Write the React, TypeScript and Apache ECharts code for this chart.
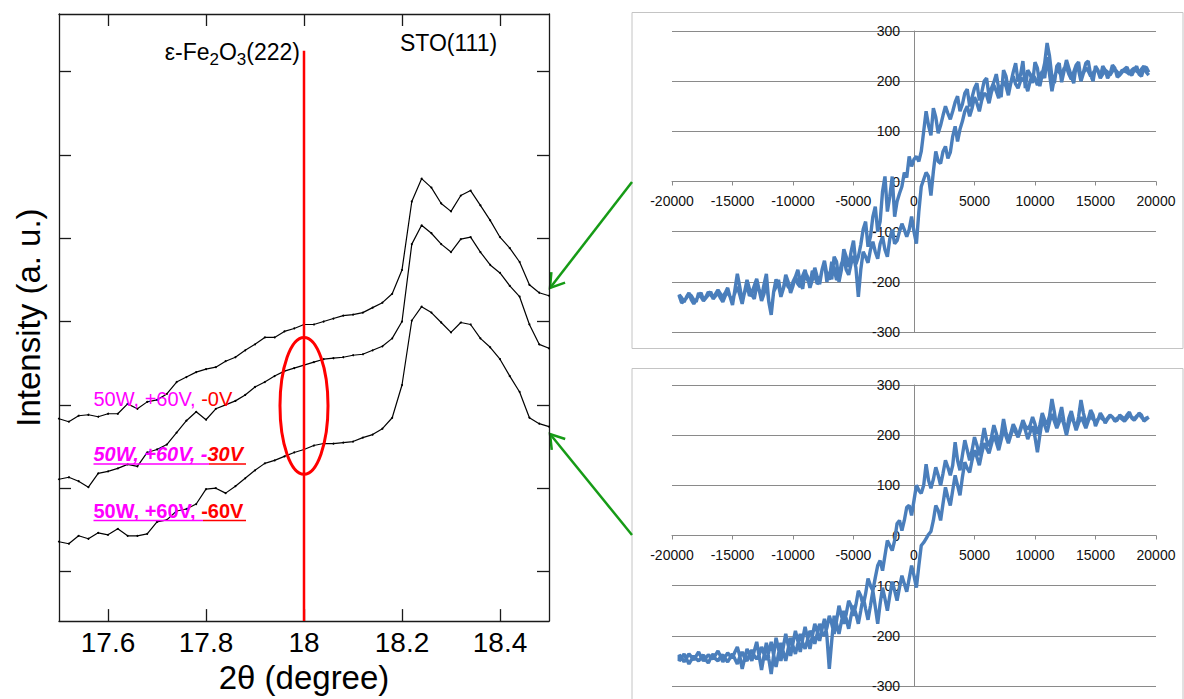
import React, { useEffect, useRef } from "react";
import * as echarts from "echarts";

// ---------- XRD data (2θ scan, arbitrary intensity units) ----------
const twoTheta = [
  17.5, 17.52, 17.54, 17.56, 17.58, 17.6, 17.62, 17.64, 17.66, 17.68,
  17.7, 17.72, 17.74, 17.76, 17.78, 17.8, 17.82, 17.84, 17.86, 17.88,
  17.9, 17.92, 17.94, 17.96, 17.98, 18.0, 18.02, 18.04, 18.06, 18.08,
  18.1, 18.12, 18.14, 18.16, 18.18, 18.2, 18.22, 18.24, 18.26, 18.28,
  18.3, 18.32, 18.34, 18.36, 18.38, 18.4, 18.42, 18.44, 18.46, 18.48, 18.5,
];
const xrd0V = [
  204, 201, 207, 208, 206, 209, 209, 219, 214, 221,
  223, 229, 241, 246, 251, 254, 256, 262, 266, 273,
  279, 286, 286, 292, 295, 299, 299, 302, 305, 308,
  309, 311, 316, 321, 330, 354, 423, 446, 437, 421,
  413, 429, 434, 419, 404, 387, 376, 362, 339, 331, 328,
];
const xrd30V = [
  143, 145, 141, 135, 149, 151, 154, 158, 156, 170,
  173, 178, 190, 202, 211, 203, 214, 218, 222, 228,
  236, 241, 247, 252, 255, 258, 261, 264, 265, 266,
  268, 269, 273, 277, 285, 302, 380, 399, 391, 380,
  372, 385, 387, 372, 359, 351, 338, 327, 299, 279, 275,
];
const xrd60V = [
  80, 78, 86, 83, 89, 87, 93, 86, 86, 88,
  100, 102, 111, 113, 118, 133, 134, 129, 136, 144,
  152, 159, 162, 166, 170, 173, 177, 179, 179, 180,
  181, 185, 188, 194, 205, 238, 303, 317, 311, 301,
  291, 301, 299, 285, 276, 264, 247, 231, 205, 199, 196,
];
const xrdXTicks = [17.6, 17.8, 18, 18.2, 18.4];
const xrdYTicks = [50, 134, 218, 302, 386, 470, 554];
const peakMarker = [[18, 0], [18, 575]];
const ellipseCenter = [18, 217];
const ellipseRadius = [0.049, 69];

// ---------- M-H loops (field in Oe, moment in emu/cc) ----------
const fieldDown = [
  19400, 19000, 18600, 18200, 17800, 17400, 17000, 16600, 16200, 15800,
  15400, 15000, 14600, 14200, 13800, 13400, 13000, 12600, 12200, 11800,
  11400, 11000, 10600, 10200, 9800, 9400, 9000, 8600, 8200, 7800,
  7400, 7000, 6600, 6200, 5800, 5400, 5000, 4600, 4200, 3800,
  3400, 3000, 2600, 2200, 1800, 1400, 1000, 600, 200, -200,
  -600, -1000, -1400, -1800, -2200, -2600, -3000, -3400, -3800, -4200,
  -4600, -5000, -5400, -5800, -6200, -6600, -7000, -7400, -7800, -8200,
  -8600, -9000, -9400, -9800, -10200, -10600, -11000, -11400, -11800, -12200,
  -12600, -13000, -13400, -13800, -14200, -14600, -15000, -15400, -15800, -16200,
  -16600, -17000, -17400, -17800, -18200, -18600, -19000, -19400,
];
const fieldDownMid = [
  19200, 18800, 18400, 18000, 17600, 17200, 16800, 16400, 16000, 15600,
  15200, 14800, 14400, 14000, 13600, 13200, 12800, 12400, 12000, 11600,
  11200, 10800, 10400, 10000, 9600, 9200, 8800, 8400, 8000, 7600,
  7200, 6800, 6400, 6000, 5600, 5200, 4800, 4400, 4000, 3600,
  3200, 2800, 2400, 2000, 1600, 1200, 800, 400, 0, -400,
  -800, -1200, -1600, -2000, -2400, -2800, -3200, -3600, -4000, -4400,
  -4800, -5200, -5600, -6000, -6400, -6800, -7200, -7600, -8000, -8400,
  -8800, -9200, -9600, -10000, -10400, -10800, -11200, -11600, -12000, -12400,
  -12800, -13200, -13600, -14000, -14400, -14800, -15200, -15600, -16000, -16400,
  -16800, -17200, -17600, -18000, -18400, -18800, -19200,
];
const fieldUp = fieldDown.slice().reverse();
const fieldUpMid = fieldDownMid.slice().reverse();

const mh1Down = [
  218, 226, 214, 222, 216, 224, 212, 226, 214, 222,
  208, 230, 212, 236, 204, 232, 210, 242, 198, 230,
  208, 276, 214, 226, 196, 222, 240, 200, 218, 182,
  222, 186, 198, 170, 200, 162, 186, 150, 176, 140,
  158, 124, 150, 112, 128, 92, 140, 60, 50, 30,
  8, -10, -40, 10, -60, -20, -100, -70, -130, -95,
  -150, -118, -170, -135, -200, -150, -180, -160, -205, -172,
  -212, -180, -200, -190, -222, -186, -230, -195, -262, -200,
  -238, -208, -226, -196, -244, -210, -236, -220, -240, -222,
  -234, -226, -238, -222, -236, -224, -238, -228,
];
const mh1DownMid = [
  228, 210, 230, 212, 228, 218, 208, 232, 206, 230,
  222, 200, 240, 218, 238, 196, 226, 220, 236, 196,
  250, 236, 190, 238, 214, 186, 212, 236, 196, 210,
  168, 214, 186, 206, 178, 196, 168, 184, 154, 170,
  140, 136, 132, 96, 146, 112, 100, 40, 44, 50,
  18, -24, -70, -30, 10, -80, -50, -110, -80, -126,
  -165, -140, -150, -176, -160, -195, -200, -176, -190, -196,
  -190, -214, -176, -208, -200, -214, -206, -220, -240, -224,
  -216, -234, -214, -220, -226, -222, -230, -228, -232, -228,
  -220, -232, -230, -240, -228, -232, -242,
];
const mh1Up = [
  -226, -240, -222, -244, -228, -236, -220, -232, -216, -230,
  -212, -246, -184, -238, -206, -222, -194, -230, -184, -266,
  -210, -224, -198, -214, -190, -210, -176, -206, -188, -200,
  -158, -196, -174, -190, -152, -186, -148, -230, -140, -162,
  -120, -154, -110, -150, -96, -118, -84, -110, -70, -124,
  -10, 18, -28, 60, 36, 70, 58, 110, 104, 140,
  130, 168, 140, 176, 156, 192, 166, 200, 172, 210,
  186, 206, 180, 214, 192, 220, 248, 180, 224, 210,
  228, 204, 232, 200, 226, 210, 224, 206, 222, 212,
  224, 214, 220, 214, 226, 216, 230, 212,
];
const mh1UpMid = [
  -232, -230, -236, -236, -222, -230, -226, -224, -224, -222,
  -230, -216, -210, -222, -228, -208, -216, -206, -240, -220,
  -196, -214, -210, -200, -204, -188, -196, -178, -204, -176,
  -186, -160, -196, -164, -176, -164, -172, -176, -150, -136,
  -140, -124, -136, -114, -124, -100, -96, -96, -100, -60,
  4, 10, 20, 40, 60, 46, 90, 80, 120, 150,
  146, 156, 162, 172, 178, 180, 188, 190, 196, 194,
  200, 196, 200, 206, 210, 206, 214, 206, 218, 226,
  214, 218, 222, 216, 220, 216, 220, 214, 218, 220,
  218, 222, 218, 222, 220, 224, 218,
];

const mh2Down = [
  236, 228, 244, 230, 246, 232, 240, 228, 238, 224,
  244, 218, 250, 226, 270, 212, 248, 206, 256, 214,
  272, 222, 244, 202, 236, 212, 230, 196, 222, 190,
  232, 184, 220, 178, 214, 160, 196, 150, 190, 130,
  186, 120, 150, 100, 136, 94, 142, 84, 100, 40,
  56, 10, 24, -30, -10, -70, -60, -110, -86, -140,
  -110, -160, -130, -176, -140, -196, -160, -200, -176, -216,
  -190, -226, -196, -236, -204, -250, -214, -262, -212, -248,
  -222, -246, -228, -250, -232, -256, -236, -252, -238, -250,
  -236, -254, -238, -250, -240, -256, -236, -250,
];
const mh2DownMid = [
  232, 240, 236, 234, 240, 236, 230, 236, 232, 236,
  230, 240, 232, 244, 236, 228, 234, 226, 236, 246,
  238, 230, 220, 222, 220, 218, 214, 212, 204, 206,
  200, 204, 196, 190, 186, 180, 170, 170, 160, 150,
  140, 136, 124, 120, 112, 110, 100, 90, 70, 60,
  30, 30, -10, -20, -40, -50, -84, -100, -116, -120,
  -138, -140, -156, -160, -170, -176, -184, -192, -196, -200,
  -208, -214, -216, -220, -226, -232, -236, -238, -232, -236,
  -238, -240, -238, -244, -242, -246, -244, -246, -242, -246,
  -244, -248, -244, -246, -248, -246, -244,
];
const mh2Up = [
  -238, -252, -236, -248, -232, -250, -238, -246, -230, -252,
  -234, -244, -222, -266, -226, -250, -212, -268, -214, -276,
  -204, -250, -196, -240, -190, -232, -182, -226, -176, -210,
  -166, -266, -160, -196, -150, -186, -140, -176, -122, -168,
  -110, -176, -104, -150, -92, -130, -80, -112, -60, -104,
  -20, -6, 8, 60, 30, 96, 60, 120, 80, 146,
  126, 170, 140, 184, 164, 200, 170, 210, 184, 214,
  196, 226, 192, 218, 166, 230, 206, 242, 214, 236,
  200, 240, 210, 236, 214, 238, 226, 236, 228, 240,
  230, 236, 228, 240, 232, 242, 230, 236,
];
const mh2UpMid = [
  -244, -244, -242, -240, -242, -244, -242, -238, -240, -242,
  -240, -232, -240, -246, -236, -230, -240, -240, -246, -238,
  -226, -222, -218, -214, -210, -206, -204, -200, -192, -186,
  -200, -210, -176, -172, -166, -160, -156, -150, -146, -140,
  -142, -136, -126, -120, -110, -104, -96, -86, -80, -60,
  -14, 2, 30, 50, 64, 76, 90, 100, 116, 134,
  150, 156, 164, 174, 182, 186, 190, 198, 200, 206,
  210, 210, 206, 196, 200, 220, 226, 228, 226, 220,
  222, 226, 224, 226, 228, 232, 232, 232, 234, 236,
  234, 232, 234, 236, 238, 236, 234,
];

const FONT = "'Liberation Sans', Arial, Helvetica, sans-serif";
const FRAME = "#1a1a1a";
const XLGRAY = "#8a8a8a";
const BLUE = "#4a7ebb";
const GREEN = "#169b16";
const MAGENTA = "#ff00ff";
const RED = "#ff0000";

function branch(field: number[], main: number[], fieldMid: number[], mid: number[]) {
  const out: number[][] = [];
  field.forEach((h, i) => {
    out.push([h, main[i]]);
    if (i < fieldMid.length) out.push([fieldMid[i], mid[i]]);
  });
  return out;
}

function loop(down: number[], downMid: number[], up: number[], upMid: number[]) {
  return [
    ...branch(fieldDown, down, fieldDownMid, downMid),
    ...branch(fieldUp, up, fieldUpMid, upMid),
  ];
}

function arrow(x1: number, y1: number, x2: number, y2: number) {
  const dx = x2 - x1;
  const dy = y2 - y1;
  const len = Math.hypot(dx, dy);
  const ux = dx / len;
  const uy = dy / len;
  const hl = 16;
  const a = Math.PI / 5.5;
  const c = Math.cos(a);
  const s = Math.sin(a);
  const w1 = [x2 - hl * (ux * c - uy * s), y2 - hl * (ux * s + uy * c)];
  const w2 = [x2 - hl * (ux * c + uy * s), y2 - hl * (-ux * s + uy * c)];
  return [
    { type: "line", shape: { x1, y1, x2, y2 }, style: { stroke: GREEN, lineWidth: 2.5 } },
    {
      type: "polyline",
      shape: { points: [w1, [x2, y2], w2] },
      style: { stroke: GREEN, lineWidth: 2.5, fill: null },
    },
  ];
}

function xrdAxisLine() {
  return { onZero: false, lineStyle: { color: FRAME, width: 1.3 } };
}

function mhXAxis(gridIndex: number) {
  return {
    type: "value",
    gridIndex,
    min: -20000,
    max: 20000,
    interval: 5000,
    offset: -150.5,
    axisLine: { onZero: false, lineStyle: { color: XLGRAY, width: 1 } },
    axisTick: { show: true, length: 4, lineStyle: { color: XLGRAY } },
    axisLabel: {
      fontSize: 14,
      color: "#111",
      margin: 12,
      fontFamily: FONT,
      hideOverlap: false,
      formatter: (v: number) => String(v),
    },
    splitLine: { show: false },
  };
}

function mhYAxis(gridIndex: number) {
  return {
    type: "value",
    gridIndex,
    min: -300,
    max: 300,
    interval: 100,
    offset: -242,
    axisLine: { onZero: false, lineStyle: { color: XLGRAY, width: 1 } },
    axisTick: { show: true, length: 4, lineStyle: { color: XLGRAY } },
    axisLabel: { fontSize: 14, color: "#111", margin: 14, fontFamily: FONT, formatter: (v: number) => String(v) },
    splitLine: { show: true, lineStyle: { color: XLGRAY, width: 1 } },
  };
}

export default function App() {
  const ref = useRef<HTMLDivElement | null>(null);

  useEffect(() => {
    if (!ref.current) return;
    const chart = echarts.init(ref.current, undefined, { renderer: "svg" });

    const xrdSeries = (data: number[]) => ({
      type: "line",
      xAxisIndex: 0,
      yAxisIndex: 0,
      data: twoTheta.map((t, i) => [t, data[i]]),
      symbol: "circle",
      symbolSize: 2,
      showSymbol: true,
      itemStyle: { color: "#000" },
      lineStyle: { color: "#000", width: 1.2 },
      z: 3,
    });

    chart.setOption({
      animation: false,
      textStyle: { fontFamily: FONT },
      grid: [
        { left: 59, top: 14, width: 490, height: 612 },
        { left: 672, top: 31, width: 484, height: 301 },
        { left: 672, top: 385, width: 484, height: 301 },
      ],
      xAxis: [
        {
          type: "value",
          gridIndex: 0,
          position: "bottom",
          min: 17.5,
          max: 18.5,
          axisLine: xrdAxisLine(),
          axisTick: { inside: true, length: 12, customValues: xrdXTicks, lineStyle: { color: FRAME, width: 1.3 } },
          axisLabel: { customValues: xrdXTicks, fontSize: 28, color: "#000", margin: 7, fontFamily: FONT },
          splitLine: { show: false },
          name: "2\u03b8 (degree)",
          nameLocation: "middle",
          nameGap: 38,
          nameTextStyle: { fontSize: 33, color: "#000", fontFamily: FONT },
        },
        {
          type: "value",
          gridIndex: 0,
          position: "top",
          min: 17.5,
          max: 18.5,
          axisLine: xrdAxisLine(),
          axisTick: { inside: true, length: 12, customValues: xrdXTicks, lineStyle: { color: FRAME, width: 1.3 } },
          axisLabel: { show: false },
          splitLine: { show: false },
        },
        mhXAxis(1),
        mhXAxis(2),
      ],
      yAxis: [
        {
          type: "value",
          gridIndex: 0,
          position: "left",
          min: 0,
          max: 612,
          axisLine: xrdAxisLine(),
          axisTick: { inside: true, length: 12, customValues: xrdYTicks, lineStyle: { color: FRAME, width: 1.3 } },
          axisLabel: { show: false },
          splitLine: { show: false },
          name: "Intensity (a. u.)",
          nameLocation: "middle",
          nameRotate: 90,
          nameGap: 14,
          nameTextStyle: { fontSize: 33, color: "#000", fontFamily: FONT },
        },
        {
          type: "value",
          gridIndex: 0,
          position: "right",
          min: 0,
          max: 612,
          axisLine: xrdAxisLine(),
          axisTick: { inside: true, length: 12, customValues: xrdYTicks, lineStyle: { color: FRAME, width: 1.3 } },
          axisLabel: { show: false },
          splitLine: { show: false },
        },
        mhYAxis(1),
        mhYAxis(2),
      ],
      series: [
        xrdSeries(xrd0V),
        xrdSeries(xrd30V),
        xrdSeries(xrd60V),
        {
          type: "line",
          xAxisIndex: 0,
          yAxisIndex: 0,
          data: peakMarker,
          symbol: "none",
          lineStyle: { color: RED, width: 2.5 },
          z: 4,
        },
        {
          type: "line",
          xAxisIndex: 2,
          yAxisIndex: 2,
          data: loop(mh1Down, mh1DownMid, mh1Up, mh1UpMid),
          symbol: "none",
          lineStyle: { color: BLUE, width: 3.4 },
          z: 5,
        },
        {
          type: "line",
          xAxisIndex: 3,
          yAxisIndex: 3,
          data: loop(mh2Down, mh2DownMid, mh2Up, mh2UpMid),
          symbol: "none",
          lineStyle: { color: BLUE, width: 3.4 },
          z: 5,
        },
      ],
    });

    const c = chart.convertToPixel({ xAxisIndex: 0, yAxisIndex: 0 }, ellipseCenter) as number[];
    const e = chart.convertToPixel(
      { xAxisIndex: 0, yAxisIndex: 0 },
      [ellipseCenter[0] + ellipseRadius[0], ellipseCenter[1] + ellipseRadius[1]]
    ) as number[];
    const rx = Math.abs(e[0] - c[0]);
    const ry = Math.abs(e[1] - c[1]);

    const labelRich = (bold: boolean, italic: boolean) => ({
      m: { fill: MAGENTA, fontSize: 20, fontFamily: FONT, fontWeight: bold ? "bold" : "normal", fontStyle: italic ? "italic" : "normal" },
      r: { fill: RED, fontSize: 20, fontFamily: FONT, fontWeight: bold ? "bold" : "normal", fontStyle: italic ? "italic" : "normal" },
    });

    chart.setOption({
      graphic: [
        {
          type: "rect",
          shape: { x: 632, y: 12.5, width: 551, height: 336 },
          style: { stroke: "#c4c4c4", lineWidth: 1, fill: null },
          silent: true,
        },
        {
          type: "rect",
          shape: { x: 632, y: 368.5, width: 551, height: 340 },
          style: { stroke: "#c4c4c4", lineWidth: 1, fill: null },
          silent: true,
        },
        {
          type: "ellipse",
          shape: { cx: c[0], cy: c[1], rx, ry },
          style: { stroke: RED, lineWidth: 3, fill: null },
          z: 10,
        },
        {
          type: "text",
          x: 300,
          y: 40,
          style: {
            text: "{a|\u03b5-Fe}{s|2}{a|O}{s|3}{a|(222)}",
            align: "right",
            verticalAlign: "top",
            rich: {
              a: { fontSize: 23, lineHeight: 22, verticalAlign: "top", fontFamily: FONT, fill: "#000" },
              s: { fontSize: 17, lineHeight: 16, padding: [11, 0, 0, 0], verticalAlign: "top", fontFamily: FONT, fill: "#000" },
            },
          },
          z: 10,
        },
        {
          type: "text",
          x: 400,
          y: 42.5,
          style: { text: "STO(111)", fontSize: 23, fontFamily: FONT, fill: "#000", align: "left", verticalAlign: "middle" },
          z: 10,
        },
        {
          type: "text",
          x: 93.5,
          y: 399,
          style: { text: "{m|50W, +60V, }{r|-0V}", verticalAlign: "middle", align: "left", rich: labelRich(false, false) },
          z: 10,
        },
        {
          type: "text",
          x: 93.5,
          y: 454,
          style: { text: "{m|50W, +60V, -}{r|30V}", verticalAlign: "middle", align: "left", rich: labelRich(true, true) },
          z: 10,
        },
        {
          type: "text",
          x: 93.5,
          y: 511,
          style: { text: "{m|50W, +60V, }{r|-60V}", verticalAlign: "middle", align: "left", rich: labelRich(true, false) },
          z: 10,
        },
        { type: "line", shape: { x1: 93.5, y1: 464, x2: 209, y2: 464 }, style: { stroke: MAGENTA, lineWidth: 1.5 }, z: 10 },
        { type: "line", shape: { x1: 209, y1: 464, x2: 246, y2: 464 }, style: { stroke: RED, lineWidth: 1.5 }, z: 10 },
        { type: "line", shape: { x1: 93.5, y1: 520.5, x2: 203, y2: 520.5 }, style: { stroke: MAGENTA, lineWidth: 1.5 }, z: 10 },
        { type: "line", shape: { x1: 203, y1: 520.5, x2: 246, y2: 520.5 }, style: { stroke: RED, lineWidth: 1.5 }, z: 10 },
        ...arrow(632, 182, 550, 288),
        ...arrow(632, 535, 550, 434),
      ],
    });

    return () => chart.dispose();
  }, []);

  return (
    <div
      ref={ref}
      style={{ position: "fixed", left: 0, top: 0, width: 1184, height: 699, background: "#fff" }}
    />
  );
}
